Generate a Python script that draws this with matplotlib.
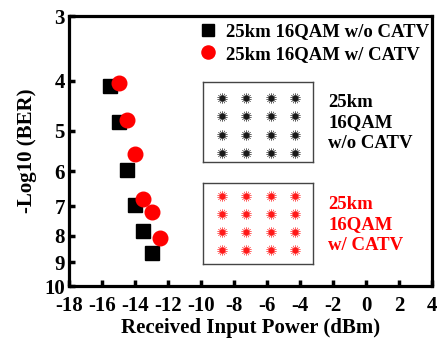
import matplotlib
matplotlib.use("Agg")
import matplotlib.pyplot as plt
from matplotlib.ticker import FixedLocator, NullLocator, FixedFormatter

plt.rcParams['font.family'] = ['Liberation Serif', 'DejaVu Serif']
plt.rcParams['font.weight'] = 'bold'

# Data
power_wo = [-15.5, -15.0, -14.5, -14.0, -13.5, -13.0]
ber_wo = [4.10, 4.81, 5.95, 6.97, 7.82, 8.65]
power_w = [-15.0, -14.5, -14.0, -13.5, -13.0, -12.5]
ber_w = [4.05, 4.76, 5.54, 6.78, 7.18, 8.06]

xticks = [-18, -16, -14, -12, -10, -8, -6, -4, -2, 0, 2, 4]
yticks = [3, 4, 5, 6, 7, 8, 9, 10]
qam_levels = [-3, -1, 1, 3]

label_wo = "25km 16QAM w/o CATV"
label_w = "25km 16QAM w/ CATV"

W, H = 438, 340
fig = plt.figure(figsize=(W / 100, H / 100), dpi=100)
ax = fig.add_axes([69 / W, 1 - 286 / H, (432 - 69) / W, (286 - 16) / H])

ax.plot(power_wo, ber_wo, linestyle='none', marker='s', color='black',
        markersize=9.5, label=label_wo)
ax.plot(power_w, ber_w, linestyle='none', marker='o', color='red',
        markeredgecolor='red', markersize=10.5, label=label_w)

ax.set_yscale('log')
ax.set_ylim(10, 3)
ax.set_xlim(-18, 4)
ax.yaxis.set_major_locator(FixedLocator(yticks))
ax.yaxis.set_major_formatter(FixedFormatter([str(v) for v in yticks]))
ax.yaxis.set_minor_locator(NullLocator())
ax.set_xticks(xticks)
ax.set_xticklabels([str(v) for v in xticks])

for s in ax.spines.values():
    s.set_linewidth(2.3)
ax.tick_params(axis='both', direction='in', length=4, width=2.5,
               labelsize=15, pad=3)
ax.tick_params(axis='x', pad=7)

ax.set_xlabel("Received Input Power (dBm)", fontsize=15, fontweight='bold', labelpad=2)
ax.set_ylabel("-Log10 (BER)", fontsize=15, fontweight='bold', labelpad=5)

leg = ax.legend(loc='upper left', bbox_to_anchor=((200 - 69) / 363, 1 - (23 - 16) / 270),
                frameon=False, fontsize=13.5, handlelength=0.8, handletextpad=0.6,
                labelspacing=0.3, borderpad=0, borderaxespad=0, markerscale=0.9)
for t in leg.get_texts():
    t.set_fontweight('bold')

# Insets (constellation diagrams)
def inset(box, color, xlim, ylim):
    x0, y0, x1, y1 = box
    iax = fig.add_axes([x0 / W, 1 - y1 / H, (x1 - x0) / W, (y1 - y0) / H])
    for s in iax.spines.values():
        s.set_linewidth(1.0)
        s.set_color('#444444')
    iax.set_xticks([])
    iax.set_yticks([])
    xs = [i for i in qam_levels for _ in qam_levels]
    ys = [q for _ in qam_levels for q in qam_levels]
    iax.scatter(xs, ys, s=55, marker=(14, 2, 0), color=color, linewidths=0.35, alpha=0.6)
    iax.scatter(xs, ys, s=20, marker='o', color=color, linewidths=0, alpha=0.75)
    iax.set_xlim(*xlim)
    iax.set_ylim(*ylim)
    return iax

inset((203, 82, 313, 162), 'black', (-4.52, 4.45), (-3.96, 4.74))
inset((203, 183, 313, 264), 'red', (-4.52, 4.45), (-4.53, 4.44))

fig.text(328 / W, 1 - 123 / H, "25km\n16QAM\nw/o CATV", fontsize=13.5, fontweight='bold',
         color='black', va='center', ha='left', linespacing=1.3)
fig.text(328 / W, 1 - 225 / H, "25km\n16QAM\nw/ CATV", fontsize=13.5, fontweight='bold',
         color='red', va='center', ha='left', linespacing=1.3)

fig.savefig("out.png", dpi=100)
